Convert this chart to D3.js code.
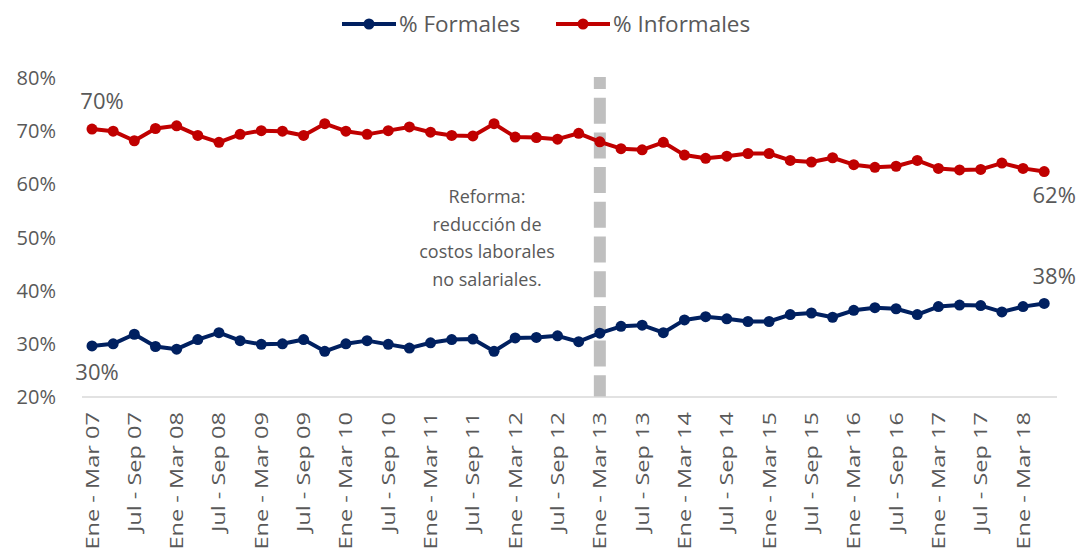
<!DOCTYPE html>
<html><head><meta charset="utf-8">
<script src="https://cdn.jsdelivr.net/npm/d3@7"></script>
<style>
html,body{margin:0;padding:0;background:#fff;}
svg{display:block;font-family:"Open Sans","Noto Sans",sans-serif;}
</style></head>
<body><svg id="chart" width="1080" height="550"></svg>
<script>
const quarterNames = ["Ene - Mar","Abr - Jun","Jul - Sep","Oct - Dic"];
const years = ["07","08","09","10","11","12","13","14","15","16","17","18"];
const categories = [];
years.forEach(y => quarterNames.forEach(q => categories.push(q + " " + y)));
categories.splice(46);

const formales = [29.6,30.0,31.8,29.5,29.0,30.8,32.1,30.6,29.9,30.0,30.8,28.6,30.0,30.6,29.9,29.2,
  30.2,30.8,30.9,28.6,31.1,31.2,31.5,30.4,32.0,33.3,33.5,32.1,34.5,35.1,34.7,34.2,
  34.2,35.5,35.8,35.0,36.3,36.8,36.6,35.5,37.0,37.3,37.2,36.0,37.0,37.6];
const informales = [70.4,70.0,68.2,70.5,71.0,69.2,67.9,69.4,70.1,70.0,69.2,71.4,70.0,69.4,70.1,70.8,
  69.8,69.2,69.1,71.4,68.9,68.8,68.5,69.6,68.0,66.7,66.5,67.9,65.5,64.9,65.3,65.8,
  65.8,64.5,64.2,65.0,63.7,63.2,63.4,64.5,63.0,62.7,62.8,64.0,63.0,62.4];
const yTicks = [20,30,40,50,60,70,80];
const seriesNames = ["% Formales","% Informales"];
const seriesColors = ["#002060","#C00000"];
const reformCategory = "Ene - Mar 13";
const annotation = ["Reforma:","reducción de","costos laborales","no salariales."];

const svg = d3.select("#chart");
const x = d3.scalePoint().domain(categories).range([92, 1044.2]);
const y = d3.scaleLinear().domain([20, 80]).range([397, 78]);
const textColor = "#595959";

// reform dashed line
svg.append("line")
  .attr("x1", x(reformCategory)).attr("x2", x(reformCategory))
  .attr("y1", 77).attr("y2", y(20))
  .attr("stroke", "#BFBFBF").attr("stroke-width", 12)
  .attr("stroke-dasharray", "26,8.7").attr("stroke-dashoffset", 14);

// x axis line
svg.append("line").attr("x1", 82).attr("x2", 1057).attr("y1", y(20)).attr("y2", y(20))
  .attr("stroke", "#D9D9D9").attr("stroke-width", 1.5);

// y labels
svg.append("g").selectAll("text").data(yTicks).join("text")
  .attr("x", 56).attr("y", d => y(d)).attr("dy", "0.35em")
  .attr("text-anchor", "end").attr("font-size", 20).attr("fill", textColor)
  .text(d => d + "%");

// x labels
svg.append("g").selectAll("text").data(categories.filter((c, i) => i % 2 === 0)).join("text")
  .attr("transform", d => `translate(${x(d) + 6.5},412) rotate(-90) scale(1.24,1)`)
  .attr("text-anchor", "end").attr("font-size", 19).attr("fill", textColor)
  .text(d => d);

// lines
const line = d3.line().x((d, i) => x(categories[i])).y(d => y(d));
[formales, informales].forEach((s, k) => {
  svg.append("path").datum(s).attr("d", line).attr("fill", "none")
    .attr("stroke", seriesColors[k]).attr("stroke-width", 4).attr("stroke-linejoin", "round");
  svg.append("g").selectAll("circle").data(s).join("circle")
    .attr("cx", (d, i) => x(categories[i])).attr("cy", d => y(d)).attr("r", 5.5)
    .attr("fill", seriesColors[k]);
});

// data labels
const last = categories.length - 1;
const lbl = (tx, ty, t) => svg.append("text").attr("x", tx).attr("y", ty)
  .attr("text-anchor", "middle").attr("font-size", 22).attr("fill", textColor).text(t);
lbl(x(categories[0]) + 10, y(informales[0]) - 20, Math.round(informales[0]) + "%");
lbl(x(categories[0]) + 5, y(formales[0]) + 34, Math.round(formales[0]) + "%");
lbl(x(categories[last]) + 10, y(informales[last]) + 31, Math.round(informales[last]) + "%");
lbl(x(categories[last]) + 10, y(formales[last]) - 19, Math.round(formales[last]) + "%");

// annotation
svg.append("text").attr("x", 487).attr("y", 203).attr("text-anchor", "middle")
  .attr("font-size", 18).attr("fill", textColor)
  .selectAll("tspan").data(annotation).join("tspan")
  .attr("x", 487).attr("dy", (d, i) => i === 0 ? 0 : 27.7).text(d => d);

// legend
const legend = svg.append("g");
const legX = [342, 556];
seriesNames.forEach((n, k) => {
  const g = legend.append("g").attr("transform", `translate(${legX[k]},24)`);
  g.append("line").attr("x1", 0).attr("x2", 54).attr("stroke", seriesColors[k]).attr("stroke-width", 4);
  g.append("circle").attr("cx", 27).attr("r", 5.5).attr("fill", seriesColors[k]);
  g.append("text").attr("x", 57).attr("dy", "0.35em").attr("font-size", 22.5).attr("fill", textColor).text(n);
});
</script></body></html>
